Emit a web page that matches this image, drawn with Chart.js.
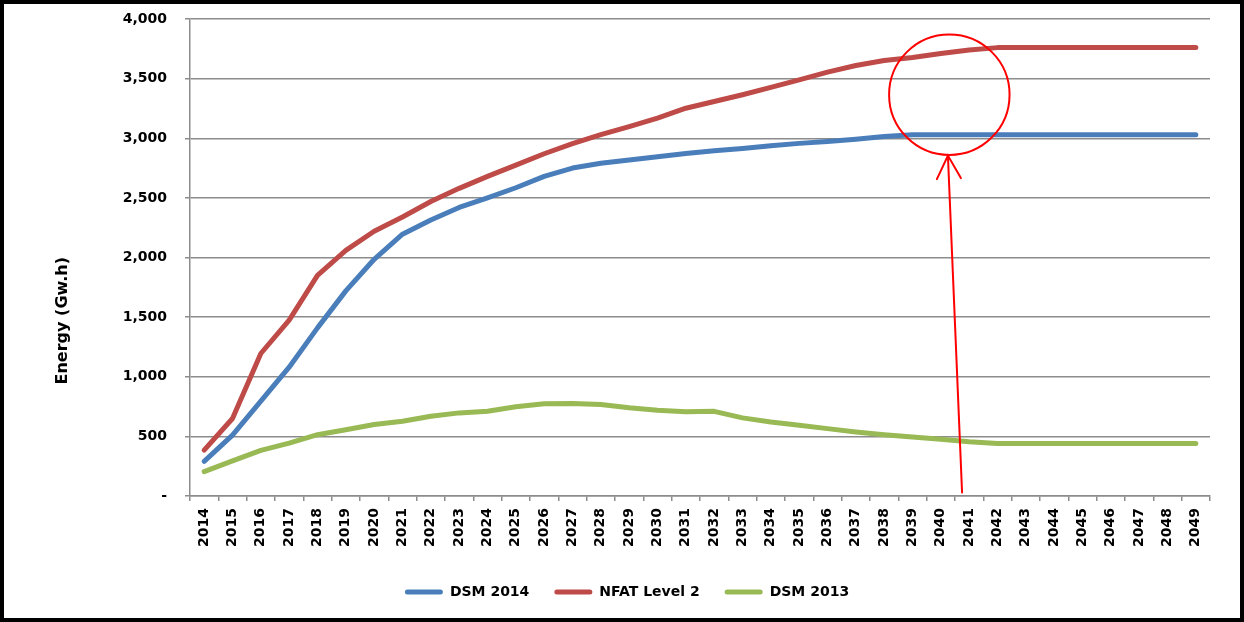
<!DOCTYPE html>
<html>
<head>
<meta charset="utf-8">
<script src="https://cdn.jsdelivr.net/npm/chart.js@4.4.1/dist/chart.umd.min.js"></script>
<style>
  html, body { margin: 0; padding: 0; background: #ffffff; }
  #wrap { width: 1244px; height: 622px; position: relative; }
</style>
</head>
<body>
<div id="wrap"><canvas id="chart" width="1244" height="622"></canvas></div>
<script>
// Annual energy savings forecasts (GW.h), 2014-2049
const years = [
  '2014','2015','2016','2017','2018','2019','2020','2021','2022','2023','2024','2025',
  '2026','2027','2028','2029','2030','2031','2032','2033','2034','2035','2036','2037',
  '2038','2039','2040','2041','2042','2043','2044','2045','2046','2047','2048','2049'
];

const dsm2014 = [
  290, 510, 795, 1080, 1410, 1720, 1985, 2195, 2315, 2420, 2500, 2585,
  2680, 2750, 2790, 2817, 2845, 2872, 2895, 2915, 2938, 2957, 2972, 2992,
  3014, 3030, 3030, 3030, 3030, 3030, 3030, 3030, 3030, 3030, 3030, 3030
];

const nfatLevel2 = [
  385, 650, 1195, 1475, 1850, 2060, 2220, 2340, 2470, 2580, 2680, 2775,
  2870, 2955, 3030, 3098, 3168, 3252, 3308, 3365, 3427, 3490, 3555, 3610,
  3652, 3677, 3710, 3740, 3760, 3760, 3760, 3760, 3760, 3760, 3760, 3760
];

const dsm2013 = [
  204, 294, 382, 444, 514, 556, 599, 627, 669, 697, 711, 748,
  773, 776, 767, 740, 720, 706, 710, 655, 621, 593, 565, 537,
  514, 494, 476, 455, 440, 440, 440, 440, 440, 440, 440, 440
];

const seriesNames = ['DSM 2014', 'NFAT Level 2', 'DSM 2013'];
const seriesColors = ['#4a7ebb', '#be4b48', '#98b954'];
const yAxisTitle = 'Energy (Gw.h)';

// Callout marking where the forecasts level off (category index / energy value)
const calloutCircle = { index: 26.3, value: 3365, radiusValue: 505 };
const calloutArrow = { fromIndex: 26.75, fromValue: 30, toIndex: 26.25, toValue: 2855 };

const FONT = "'DejaVu Sans', sans-serif";
const GRID = '#8c8c8c';

Chart.defaults.font.family = FONT;
Chart.defaults.color = '#000000';

const calloutPlugin = {
  id: 'callout',
  afterDatasetsDraw(chart) {
    const { ctx, scales: { x, y } } = chart;
    ctx.save();
    ctx.strokeStyle = '#ff0000';
    ctx.lineWidth = 2;
    ctx.lineCap = 'round';

    const cx = x.getPixelForValue(calloutCircle.index);
    const cy = y.getPixelForValue(calloutCircle.value);
    const r = y.getPixelForValue(0) - y.getPixelForValue(calloutCircle.radiusValue);
    ctx.beginPath();
    ctx.arc(cx, cy, r, 0, Math.PI * 2);
    ctx.stroke();

    const x0 = x.getPixelForValue(calloutArrow.fromIndex);
    const y0 = y.getPixelForValue(calloutArrow.fromValue);
    const x1 = x.getPixelForValue(calloutArrow.toIndex);
    const y1 = y.getPixelForValue(calloutArrow.toValue);
    ctx.beginPath();
    ctx.moveTo(x0, y0);
    ctx.lineTo(x1, y1);
    ctx.stroke();

    const ang = Math.atan2(y0 - y1, x0 - x1);
    const head = 26, spread = 0.48;
    ctx.beginPath();
    ctx.moveTo(x1 + head * Math.cos(ang - spread), y1 + head * Math.sin(ang - spread));
    ctx.lineTo(x1, y1);
    ctx.lineTo(x1 + head * Math.cos(ang + spread), y1 + head * Math.sin(ang + spread));
    ctx.stroke();
    ctx.restore();
  }
};

// Vertical axis title, set a little below the middle of the value axis
const axisTitlePlugin = {
  id: 'axisTitle',
  afterDraw(chart) {
    const { ctx, scales: { y } } = chart;
    ctx.save();
    ctx.translate(y.left + 19, y.getPixelForValue(1470));
    ctx.rotate(-Math.PI / 2);
    ctx.font = `bold 16px ${FONT}`;
    ctx.fillStyle = '#000000';
    ctx.textAlign = 'center';
    ctx.textBaseline = 'middle';
    ctx.fillText(yAxisTitle, 0, 0);
    ctx.restore();
  }
};

const framePlugin = {
  id: 'frame',
  beforeDraw(chart) {
    const { ctx, width, height } = chart;
    ctx.save();
    ctx.fillStyle = '#ffffff';
    ctx.fillRect(0, 0, width, height);
    ctx.restore();
  },
  afterDraw(chart) {
    const { ctx, width, height } = chart;
    ctx.save();
    ctx.strokeStyle = '#000000';
    ctx.lineWidth = 4;
    ctx.strokeRect(2, 2, width - 4, height - 4);
    ctx.restore();
  }
};

const datasets = seriesNames.map((name, i) => ({
  label: name,
  data: [dsm2014, nfatLevel2, dsm2013][i],
  borderColor: seriesColors[i],
  backgroundColor: seriesColors[i],
  borderWidth: 5,
  pointRadius: 0,
  tension: 0,
  borderCapStyle: 'round',
  borderJoinStyle: 'round',
  fill: false
}));

new Chart(document.getElementById('chart'), {
  type: 'line',
  data: { labels: years, datasets },
  plugins: [framePlugin, calloutPlugin, axisTitlePlugin],
  options: {
    responsive: false,
    animation: false,
    events: [],
    layout: { padding: { left: 44, right: 34, top: 19, bottom: 13 } },
    plugins: {
      tooltip: { enabled: false },
      legend: {
        position: 'bottom',
        labels: {
          boxWidth: 38,
          boxHeight: 5,
          useBorderRadius: true,
          borderRadius: 2.5,
          padding: 25,
          color: '#000000',
          font: { family: FONT, size: 14, weight: 'bold' },
          generateLabels(chart) {
            return Chart.defaults.plugins.legend.labels.generateLabels(chart)
              .map(item => Object.assign(item, { lineWidth: 0 }));
          }
        }
      }
    },
    scales: {
      x: {
        type: 'category',
        offset: true,
        grid: {
          offset: true,
          drawOnChartArea: false,
          drawTicks: true,
          tickLength: 5,
          color: GRID,
          lineWidth: 1.5
        },
        border: { color: GRID, width: 1.5 },
        ticks: {
          autoSkip: false,
          minRotation: 90,
          maxRotation: 90,
          padding: 7,
          color: '#000000',
          font: { family: FONT, size: 14, weight: 'bold' }
        },
        afterFit(scale) { scale.height = 64; }
      },
      y: {
        min: 0,
        max: 4000,
        grid: { color: GRID, lineWidth: 1.5, tickLength: 5 },
        border: { color: GRID, width: 1.5 },
        ticks: {
          stepSize: 500,
          padding: 18,
          color: '#000000',
          font: { family: FONT, size: 14, weight: 'bold' },
          callback: v => (v === 0 ? '-' : v.toLocaleString('en-US'))
        },
        afterFit(scale) {
          scale.width = 146;
          scale.paddingTop = 9;
          scale.paddingBottom = 9;
        }
      }
    }
  }
});
</script>
</body>
</html>
